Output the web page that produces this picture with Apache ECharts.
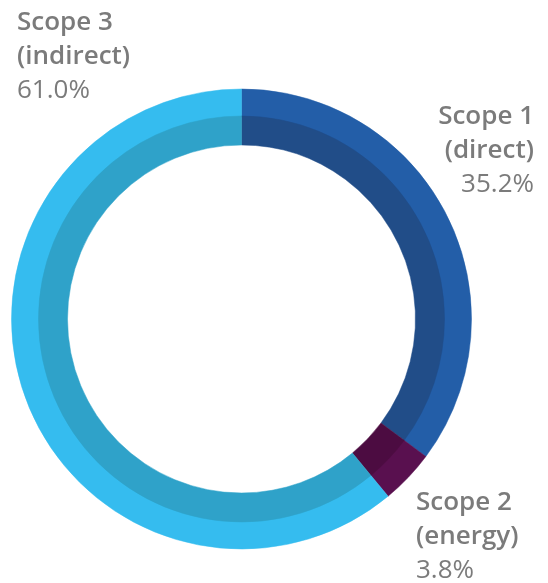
<!DOCTYPE html>
<html>
<head>
<meta charset="utf-8">
<script src="https://cdn.jsdelivr.net/npm/echarts@6/dist/echarts.min.js"></script>
<style>
  html, body { margin: 0; padding: 0; background: #fff; }
  #main { width: 548px; height: 583px; }
</style>
</head>
<body>
<div id="main"></div>
<script>
var scopeNames = ['Scope 1', 'Scope 2', 'Scope 3'];
var scopeSubs = ['(direct)', '(energy)', '(indirect)'];
var scopeShares = [35.2, 3.8, 61.0];
var outerColors = ['#235ea8', '#59104f', '#35bcef'];
var innerColors = ['#214d88', '#4c0c41', '#2fa2c9'];

// where each label block sits: [x, y, align]
var labelSpots = [[534, 100, 'right'], [416, 486, 'left'], [17, 6, 'left']];

var myChart = echarts.init(document.getElementById('main'));

function pieData(colors) {
    return scopeNames.map(function (n, i) {
        return { name: n, value: scopeShares[i], itemStyle: { color: colors[i], borderColor: colors[i] } };
    });
}

var rich = {
    n: { fontFamily: 'Open Sans', fontWeight: 600, fontSize: 26, lineHeight: 34, fill: '#7b7b7b' },
    p: { fontFamily: 'Open Sans', fontWeight: 'normal', fontSize: 26, lineHeight: 34, fill: '#7b7b7b' }
};

var labels = scopeNames.map(function (n, i) {
    var s = labelSpots[i];
    return {
        type: 'text',
        x: s[0],
        y: s[1],
        silent: true,
        style: {
            text: '{n|' + n + '}\n{n|' + scopeSubs[i] + '}\n{p|' + scopeShares[i].toFixed(1) + '%}',
            rich: rich,
            align: s[2],
            verticalAlign: 'top'
        }
    };
});

var center = [241.5, 319];

var pieBase = {
    type: 'pie',
    silent: true,
    center: center,
    startAngle: 90,
    clockwise: true,
    padAngle: 0,
    label: { show: false },
    labelLine: { show: false }
};

var option = {
    backgroundColor: '#fff',
    animation: false,
    graphic: labels,
    series: [
        Object.assign({}, pieBase, {
            radius: [202, 230],
            itemStyle: { borderWidth: 0.5 },
            data: pieData(outerColors)
        }),
        Object.assign({}, pieBase, {
            radius: [174, 203],
            itemStyle: { borderWidth: 0.5 },
            data: pieData(innerColors)
        })
    ]
};
myChart.setOption(option);
</script>
</body>
</html>
